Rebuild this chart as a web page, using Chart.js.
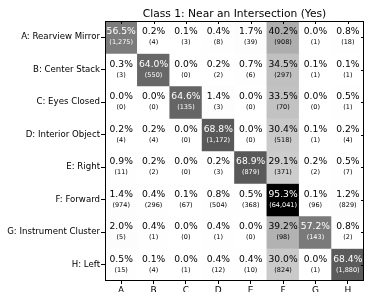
<!DOCTYPE html>
<html>
<head>
<meta charset="utf-8">
<script src="https://cdn.jsdelivr.net/npm/chart.js@4/dist/chart.umd.min.js"></script>
<style>
html,body{margin:0;padding:0;background:#fff;}
#wrap{width:369px;height:298px;}
</style>
</head>
<body>
<div id="wrap"><canvas id="c" width="369" height="298"></canvas></div>
<script>
const titleText = "Class 1: Near an Intersection (Yes)";
const columnLabels = ["A", "B", "C", "D", "E", "F", "G", "H"];
const rowLabels = ["A: Rearview Mirror", "B: Center Stack", "C: Eyes Closed", "D: Interior Object",
  "E: Right", "F: Forward", "G: Instrument Cluster", "H: Left"];

const rowA = [56.5, 0.2, 0.1, 0.4, 1.7, 40.2, 0.0, 0.8];
const rowB = [0.3, 64.0, 0.0, 0.2, 0.7, 34.5, 0.1, 0.1];
const rowC = [0.0, 0.0, 64.6, 1.4, 0.0, 33.5, 0.0, 0.5];
const rowD = [0.2, 0.2, 0.0, 68.8, 0.0, 30.4, 0.1, 0.2];
const rowE = [0.9, 0.2, 0.0, 0.2, 68.9, 29.1, 0.2, 0.5];
const rowF = [1.4, 0.4, 0.1, 0.8, 0.5, 95.3, 0.1, 1.2];
const rowG = [2.0, 0.4, 0.0, 0.4, 0.0, 39.2, 57.2, 0.8];
const rowH = [0.5, 0.1, 0.0, 0.4, 0.4, 30.0, 0.0, 68.4];

const countA = [1275, 4, 3, 8, 39, 908, 1, 18];
const countB = [3, 550, 0, 2, 6, 297, 1, 1];
const countC = [0, 0, 135, 3, 0, 70, 0, 1];
const countD = [4, 4, 0, 1172, 0, 518, 1, 4];
const countE = [11, 2, 0, 3, 879, 371, 2, 7];
const countF = [974, 296, 67, 504, 368, 64041, 96, 829];
const countG = [5, 1, 0, 1, 0, 98, 143, 2];
const countH = [15, 4, 1, 12, 10, 824, 1, 1880];

const percents = [rowA, rowB, rowC, rowD, rowE, rowF, rowG, rowH];
const counts = [countA, countB, countC, countD, countE, countF, countG, countH];

const FONT = "'DejaVu Sans', sans-serif";
const greys = [1.0, 0.94117647, 0.85098039, 0.74117647, 0.58823529, 0.45098039, 0.32156863, 0.14509804, 0.0];
const vmax = Math.max(...percents.flat());
function greyColor(v) {
  const t = Math.min(1, Math.max(0, v / vmax)) * (greys.length - 1);
  const i = Math.min(greys.length - 2, Math.floor(t));
  const f = t - i;
  const g = Math.round((greys[i] + (greys[i + 1] - greys[i]) * f) * 255);
  return `rgb(${g},${g},${g})`;
}

const datasets = percents.map((row, r) => ({
  label: rowLabels[r],
  data: row.map(() => [r, r + 1]),
  backgroundColor: row.map(v => greyColor(v)),
  borderColor: row.map(v => greyColor(v)),
  borderWidth: 0,
  borderSkipped: false,
  barPercentage: 1.0,
  categoryPercentage: 1.0,
  grouped: false
}));

const fmt = n => n.toLocaleString('en-US');

const cellText = {
  id: 'cellText',
  afterDatasetsDraw(chart) {
    const xs = chart.scales.x, ys = chart.scales.y, ctx = chart.ctx;
    ctx.save();
    ctx.textAlign = 'center';
    ctx.textBaseline = 'middle';
    percents.forEach((row, r) => {
      row.forEach((v, c) => {
        const x = xs.getPixelForValue(c);
        const y = ys.getPixelForValue(r + 0.5);
        ctx.fillStyle = v > 50 ? '#ffffff' : '#000000';
        ctx.font = `9.2px ${FONT}`;
        ctx.fillText(v.toFixed(1) + '%', x, y - 5.5);
        ctx.font = `6.5px ${FONT}`;
        ctx.fillText('(' + fmt(counts[r][c]) + ')', x, y + 5.5);
      });
    });
    const a = chart.chartArea;
    ctx.strokeStyle = '#000';
    ctx.lineWidth = 1;
    ctx.strokeRect(Math.round(a.left) + 0.5, Math.round(a.top) + 0.5,
      Math.round(a.right - a.left) - 1, Math.round(a.bottom - a.top) - 1);
    ctx.beginPath();
    columnLabels.forEach((_, c) => {
      const x = Math.round(xs.getPixelForValue(c)) + 0.5;
      ctx.moveTo(x, a.top); ctx.lineTo(x, a.top + 3);
    });
    rowLabels.forEach((_, r) => {
      const y = Math.round(ys.getPixelForValue(r + 0.5)) + 0.5;
      ctx.moveTo(a.right, y); ctx.lineTo(a.right - 3, y);
    });
    ctx.stroke();
    ctx.restore();
  }
};

new Chart(document.getElementById('c'), {
  type: 'bar',
  data: { labels: columnLabels, datasets },
  options: {
    responsive: false,
    animation: false,
    devicePixelRatio: 1,
    layout: { padding: { left: 0, right: 5, top: 0, bottom: 6 } },
    plugins: {
      legend: { display: false },
      tooltip: { enabled: false },
      title: {
        display: true,
        text: titleText,
        fullSize: false,
        color: '#000',
        font: { family: FONT, size: 10.7, weight: 'normal' },
        padding: { top: 7.5, bottom: 0.66 }
      }
    },
    scales: {
      x: {
        type: 'category',
        offset: true,
        grid: { display: true, drawOnChartArea: false, drawTicks: true, tickLength: 3, color: '#000', offset: false },
        border: { display: false },
        ticks: { color: '#000', font: { family: FONT, size: 9 }, padding: 1, maxRotation: 0, autoSkip: false },
        afterFit(s) { s.height = 11; }
      },
      y: {
        type: 'linear',
        min: 0, max: 8,
        reverse: true,
        grid: { display: true, drawOnChartArea: false, drawTicks: true, tickLength: 4, color: '#000' },
        border: { display: false },
        afterBuildTicks(axis) {
          axis.ticks = rowLabels.map((_, r) => ({ value: r + 0.5 }));
        },
        ticks: {
          color: '#000',
          font: { family: FONT, size: 8.6 },
          padding: 1,
          autoSkip: false,
          callback: (value, index) => rowLabels[index]
        },
        afterFit(s) { s.width = 105; }
      }
    }
  },
  plugins: [cellText]
});
</script>
</body>
</html>
